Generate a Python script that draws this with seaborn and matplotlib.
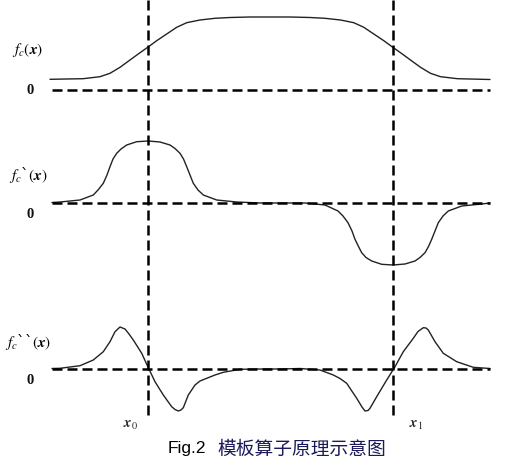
import matplotlib
matplotlib.use("Agg")
import matplotlib.pyplot as plt
import seaborn as sns
import pandas as pd

# Curves (horizontal position, vertical position in image units)
f_x = [50, 83, 100, 110, 120, 130, 140, 147.7, 156.7, 166.7, 176.7, 186.7, 200, 215, 230,
       250, 270, 290, 310, 325, 340.5, 353.8, 363.8, 373.8, 383.8, 392.8, 400.5, 410.5,
       420.5, 430.5, 440.5, 457.5, 490]
f_y = [79.3, 78.7, 76.7, 73.3, 67.3, 60, 52.7, 47.3, 40.7, 34, 27.3, 22.7, 20, 18.3, 17.5,
       17, 17, 17, 17.5, 18.3, 20, 22.7, 27.3, 34, 40.7, 47.3, 52.7, 60,
       67.3, 73.3, 76.7, 78.7, 79.5]

d1_x = [52, 60, 80, 93.3, 98, 103.3, 107, 110, 113, 116.7, 121, 126.7, 136.7, 148.3, 160,
        170, 175, 180, 183.5, 186.7, 190, 193.3, 198, 203.3, 216.7, 236.7, 260, 290,
        305, 325, 338, 343, 348, 352, 355, 358.5, 361.7, 366, 371.7, 381.7, 393, 405,
        415, 420, 425, 428.5, 431.7, 435, 438.3, 443, 448.3, 461.7, 481.7, 490]
d1_y = [202.5, 202, 200, 195, 190, 183.3, 175, 166.7, 159, 153.3, 149, 145, 141.7, 141, 142,
        145, 148.5, 153.3, 159, 166.7, 175, 183.3, 190, 195, 200, 202, 203, 203,
        203, 205, 211, 216, 222.7, 231, 239.3, 246.5, 252.7, 257.5, 261, 264.3, 265, 264,
        261, 257.5, 252.7, 246.5, 239.3, 231, 222.7, 216, 211, 206, 204, 203]

d2_x = [52, 60, 80, 93.3, 103.3, 110, 115, 120, 125, 129, 133.3, 141.7, 148.3, 155, 163.3,
        171.7, 175, 178.3, 181, 183.3, 188.3, 195, 200, 206.7, 215, 223.3, 240, 260,
        280, 300, 320, 333.3, 340, 346.7, 356.7, 362, 365, 368, 370, 376.7, 386.7, 395,
        403.3, 413.3, 418, 423.3, 426, 428.3, 435, 443.3, 456.7, 473.3, 490]
d2_y = [368.5, 368.3, 365.7, 360, 351.7, 341.7, 331.7, 327, 329, 334, 340, 353.3, 367.7, 381.7, 395,
        406.7, 409.5, 411, 410, 407.7, 395, 385, 381, 378.3, 375, 372.3, 369.3, 369,
        369, 368.5, 370, 375, 378.5, 383.3, 398.3, 407, 411, 410.5, 408.3, 396.7, 380, 366.7,
        351.7, 338.3, 331.5, 327.7, 328, 330, 341.7, 353.3, 361.7, 367.3, 368.5]

zero_levels = [90, 203, 369]
zero_label_y = [91, 215, 381]
markers_x = [147.5, 393]
left_labels = [r"$f_c(\boldsymbol{x})$", r"$f_c$`$(\boldsymbol{x})$", r"$f_c$``$(\boldsymbol{x})$"]
left_label_y = [50, 175, 342]
x_labels = [r"$\boldsymbol{x}_0$", r"$\boldsymbol{x}_1$"]
caption_en = "Fig.2"
caption_cn = "模板算子原理示意图"

sns.set_theme(style="white")
plt.rcParams["mathtext.fontset"] = "stix"
fig = plt.figure(figsize=(5.30, 4.63), dpi=100)
ax = fig.add_axes([0, 0, 1, 1])
ax.set_xlim(0, 530)
ax.set_ylim(463, 0)
ax.axis("off")

for xs, ys in [(f_x, f_y), (d1_x, d1_y), (d2_x, d2_y)]:
    df = pd.DataFrame({"x": xs, "y": ys})
    sns.lineplot(data=df, x="x", y="y", ax=ax, color="#222222", linewidth=1.0,
                 sort=False, estimator=None)

for z in zero_levels:
    ax.hlines(z, 52, 490, colors="black", linewidth=1.8, linestyles=(0, (4, 2)))
for xv in markers_x:
    ax.vlines(xv, 0, 417, colors="black", linewidth=1.8, linestyles=(0, (4, 2)))

for lab, ly in zip(left_labels, left_label_y):
    ax.text(28, ly, lab, ha="center", va="center", fontsize=11, color="black")
for zy in zero_label_y:
    ax.text(30, zy, "0", ha="center", va="center", fontsize=10.5,
            family="Liberation Serif", fontweight="semibold", color="#111111")
ax.text(131, 425, x_labels[0], ha="center", va="center", fontsize=10.5)
ax.text(416, 425, x_labels[1], ha="center", va="center", fontsize=10.5)

ax.text(206, 449, caption_en, ha="right", va="center", fontsize=12.5,
        family="Liberation Sans", color="black")
ax.text(217, 449, caption_cn, ha="left", va="center", fontsize=13.5,
        family=["Noto Sans CJK SC", "DejaVu Sans"], color="#1a1a5a")

fig.savefig("out.png", dpi=100)
